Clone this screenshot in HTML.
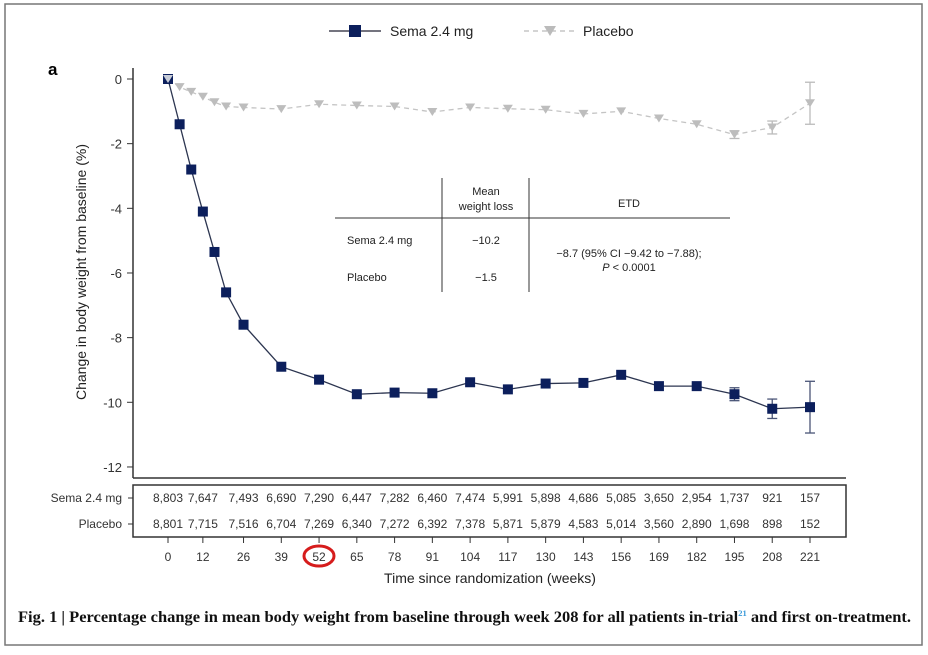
<!DOCTYPE html>
<html><head><meta charset="utf-8"><style>
body{margin:0;background:#fff;}
svg text{font-family:"Liberation Sans",sans-serif;}
svg text.cap{font-family:"Liberation Serif",serif;}
</style></head><body>
<svg width="928" height="650" viewBox="0 0 928 650">
<rect x="5" y="4" width="917" height="641" fill="#fff" stroke="#777" stroke-width="1.5"/>
<g id="legend">
 <g>
  <line x1="329" y1="31" x2="381" y2="31" stroke="#223" stroke-width="1.2"/>
  <rect x="349" y="25" width="12" height="12" fill="#0c1f5c"/>
  <text x="390" y="36" font-size="14" fill="#222">Sema 2.4 mg</text>
 </g>
 <g>
  <line x1="524" y1="31" x2="574" y2="31" stroke="#bbb" stroke-width="1.2" stroke-dasharray="5,4"/>
  <polygon points="544,26 556,26 550,36" fill="#bbb"/>
  <text x="583" y="36" font-size="14" fill="#222">Placebo</text>
 </g>
</g>
<text x="48" y="75" font-size="17" font-weight="bold">a</text>
<text transform="translate(86,272) rotate(-90)" text-anchor="middle" font-size="14" fill="#222">Change in body weight from baseline (%)</text>
<g id="yaxis"></g>
<g id="plot"></g>
<g font-size="11" fill="#222">
 <line x1="335" y1="218" x2="730" y2="218" stroke="#333"/>
 <line x1="442" y1="178" x2="442" y2="292" stroke="#333"/>
 <line x1="529" y1="178" x2="529" y2="292" stroke="#333"/>
 <text x="486" y="195" text-anchor="middle">Mean</text>
 <text x="486" y="210" text-anchor="middle">weight loss</text>
 <text x="629" y="207" text-anchor="middle">ETD</text>
 <text x="347" y="244">Sema 2.4 mg</text>
 <text x="347" y="281">Placebo</text>
 <text x="486" y="244" text-anchor="middle">−10.2</text>
 <text x="486" y="281" text-anchor="middle">−1.5</text>
 <text x="629" y="257" text-anchor="middle">−8.7 (95% CI −9.42 to −7.88);</text>
 <text x="629" y="271" text-anchor="middle"><tspan font-style="italic">P</tspan> &lt; 0.0001</text>
</g>
<line x1="133" y1="478" x2="846" y2="478" stroke="#333" stroke-width="1.5"/>
<rect x="133" y="485" width="713" height="52" fill="none" stroke="#333" stroke-width="1.5"/>
<line x1="128" y1="498" x2="133" y2="498" stroke="#333"/>
<line x1="128" y1="524" x2="133" y2="524" stroke="#333"/>
<text x="122" y="502" text-anchor="end" font-size="12" fill="#333">Sema 2.4 mg</text>
<text x="122" y="528" text-anchor="end" font-size="12" fill="#333">Placebo</text>
<g id="risk"></g>
<g id="xaxis"></g>
<ellipse cx="319" cy="556" rx="15" ry="10" fill="none" stroke="#d61c1c" stroke-width="3"/>
<text x="490" y="583" text-anchor="middle" font-size="14" fill="#222">Time since randomization (weeks)</text>
<text class="cap" x="18" y="622" font-size="15.5" font-weight="bold" fill="#111" textLength="893" lengthAdjust="spacingAndGlyphs">Fig. 1 | Percentage change in mean body weight from baseline through week 208 for all patients in-trial<tspan font-size="8" dy="-6" fill="#3a9ad9">21</tspan><tspan dy="6"> and first on-treatment.</tspan></text>
</svg>
<script>
const weeks=[0,4,8,12,16,20,26,39,52,65,78,91,104,117,130,143,156,169,182,195,208,221];
const semaVals=[0,-1.4,-2.8,-4.1,-5.35,-6.6,-7.6,-8.9,-9.3,-9.75,-9.7,-9.72,-9.38,-9.6,-9.42,-9.4,-9.15,-9.5,-9.5,-9.75,-10.2,-10.15];
const semaErr=[0,0,0,0,0,0,0,0,0,0,0,0,0,0,0,0,0,0,0,0.2,0.3,0.8];
const placeboVals=[0,-0.25,-0.4,-0.55,-0.72,-0.85,-0.88,-0.93,-0.78,-0.82,-0.85,-1.02,-0.88,-0.92,-0.95,-1.08,-1.0,-1.22,-1.4,-1.72,-1.5,-0.75];
const placeboErr=[0,0,0,0,0,0,0,0,0,0,0,0,0,0,0,0,0,0,0,0.12,0.2,0.65];
const xTicks=[0,12,26,39,52,65,78,91,104,117,130,143,156,169,182,195,208,221];
const yTicks=[0,-2,-4,-6,-8,-10,-12];
const semaN=["8,803","7,647","7,493","6,690","7,290","6,447","7,282","6,460","7,474","5,991","5,898","4,686","5,085","3,650","2,954","1,737","921","157"];
const placeboN=["8,801","7,715","7,516","6,704","7,269","6,340","7,272","6,392","7,378","5,871","5,879","4,583","5,014","3,560","2,890","1,698","898","152"];
const NS="http://www.w3.org/2000/svg";
const X=w=>168+w*(642/221);
const Y=v=>79-v*32.33;
function mk(p,t,a){const e=document.createElementNS(NS,t);for(const k in a)e.setAttribute(k,a[k]);p.appendChild(e);return e;}
const ya=document.getElementById('yaxis'),xa=document.getElementById('xaxis'),pl=document.getElementById('plot'),rk=document.getElementById('risk');
mk(ya,'line',{x1:133,y1:68,x2:133,y2:478,stroke:'#333','stroke-width':1.5});
yTicks.forEach(v=>{mk(ya,'line',{x1:127,y1:Y(v),x2:133,y2:Y(v),stroke:'#333'});
 const t=mk(ya,'text',{x:122,y:Y(v)+5,'text-anchor':'end','font-size':13,fill:'#333'});t.textContent=v<0?'-'+(-v):v;
 
 });
xTicks.forEach((w,i)=>{mk(xa,'line',{x1:X(w),y1:537,x2:X(w),y2:543,stroke:'#333'});
 const t=mk(xa,'text',{x:X(w),y:561,'text-anchor':'middle','font-size':12,fill:'#333'});t.textContent=w;
 
 
 const a=mk(rk,'text',{x:X(w),y:502,'text-anchor':'middle','font-size':12,fill:'#333'});a.textContent=semaN[i];
 
 
 const b=mk(rk,'text',{x:X(w),y:528,'text-anchor':'middle','font-size':12,fill:'#333'});b.textContent=placeboN[i];
 
 });
const pg=mk(pl,'g',{});


mk(pg,'polyline',{points:weeks.map((w,i)=>X(w)+','+Y(placeboVals[i])).join(' '),fill:'none',stroke:'#c4c4c4','stroke-width':1.3,'stroke-dasharray':'5,4'});
weeks.forEach((w,i)=>{const x=X(w),y=Y(placeboVals[i]),e=placeboErr[i];
 if(e>0){mk(pg,'line',{x1:x,y1:Y(placeboVals[i]+e),x2:x,y2:Y(placeboVals[i]-e),stroke:'#bbb','stroke-width':1.3});
  [e,-e].forEach(d=>mk(pg,'line',{x1:x-5,x2:x+5,y1:Y(placeboVals[i]+d),y2:Y(placeboVals[i]+d),stroke:'#bbb','stroke-width':1.3}));}
 const p=mk(pg,'polygon',{points:`${x-5},${y-4} ${x+5},${y-4} ${x},${y+4}`,fill:'#bdbdbd'});
 
 });
const sg=mk(pl,'g',{});


mk(sg,'polyline',{points:weeks.map((w,i)=>X(w)+','+Y(semaVals[i])).join(' '),fill:'none',stroke:'#2c3550','stroke-width':1.3});
weeks.forEach((w,i)=>{const x=X(w),y=Y(semaVals[i]),e=semaErr[i];
 if(e>0){mk(sg,'line',{x1:x,y1:Y(semaVals[i]+e),x2:x,y2:Y(semaVals[i]-e),stroke:'#4a5577','stroke-width':1.3});
  [e,-e].forEach(d=>mk(sg,'line',{x1:x-5,x2:x+5,y1:Y(semaVals[i]+d),y2:Y(semaVals[i]+d),stroke:'#4a5577','stroke-width':1.3}));}
 const r=mk(sg,'rect',{x:x-5,y:y-5,width:10,height:10,fill:'#0c1f5c'});
 
 });
const b0=mk(pl,'polygon',{points:`${X(0)-5},${Y(0)-4} ${X(0)+5},${Y(0)-4} ${X(0)},${Y(0)+4}`,fill:'#c8cdd8'});


</script>
</body></html>
